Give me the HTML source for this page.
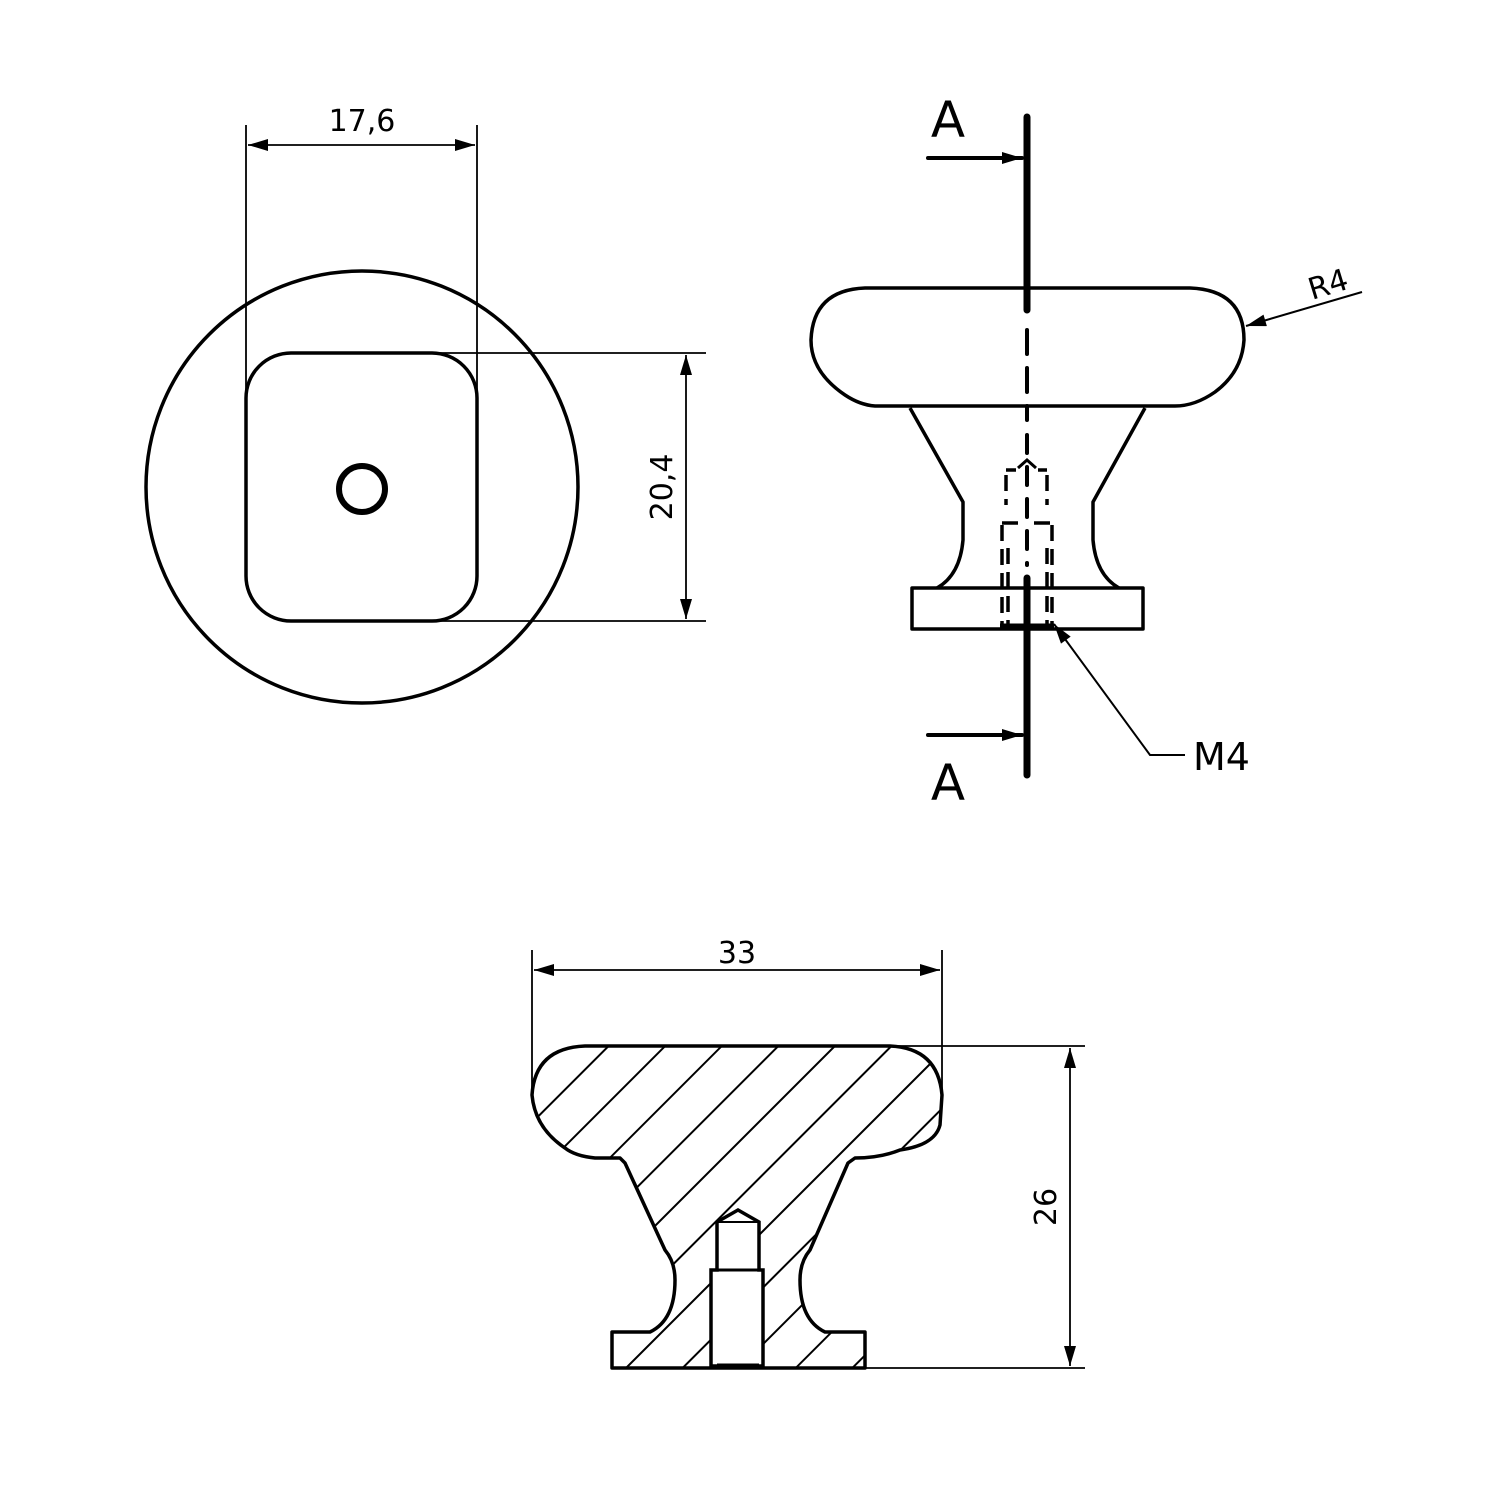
<!DOCTYPE html>
<html><head><style>body{margin:0;background:#fff}svg{display:block}text{font-family:"DejaVu Sans","Liberation Sans",sans-serif;fill:#000}</style></head>
<body>
<svg width="1500" height="1500" viewBox="0 0 1500 1500" xmlns="http://www.w3.org/2000/svg">
<defs>
<marker id="ab" viewBox="0 0 10 6" refX="10" refY="3" markerWidth="26" markerHeight="12" markerUnits="userSpaceOnUse" orient="auto-start-reverse"><path d="M0,0 L10,3 L0,6 z" fill="#000"/></marker>
<pattern id="h" width="40" height="40" patternUnits="userSpaceOnUse" patternTransform="rotate(45)"><line x1="10" y1="0" x2="10" y2="40" stroke="#000" stroke-width="2"/></pattern>
</defs>
<g fill="none" stroke="#000" stroke-width="3.5" stroke-linejoin="round">
<circle cx="362" cy="487" r="216"/>
<rect x="246" y="353" width="231" height="268" rx="45"/>
<circle cx="362" cy="489" r="23" stroke-width="6"/>
</g>
<g stroke="#000" stroke-width="1.8" fill="none">
<line x1="246" y1="125" x2="246" y2="400"/>
<line x1="477" y1="125" x2="477" y2="400"/>
<line x1="248" y1="145" x2="475" y2="145" marker-start="url(#ab)" marker-end="url(#ab)"/>
<line x1="440" y1="353" x2="706" y2="353"/>
<line x1="440" y1="621" x2="706" y2="621"/>
<line x1="686" y1="355" x2="686" y2="619" marker-start="url(#ab)" marker-end="url(#ab)"/>
</g>
<text x="362" y="131" font-size="30" text-anchor="middle">17,6</text>
<text x="0" y="0" font-size="30" text-anchor="middle" transform="translate(672,487) rotate(-90)">20,4</text>

<g fill="none" stroke="#000" stroke-width="3.5" stroke-linejoin="round">
<path d="M865,288 L1190,288 Q1244,290 1244,340 Q1242,372 1215,392 Q1195,406 1175,406 L875,406 Q860,405 845,395 Q811,372 811,340 Q813,290 865,288 Z"/>
<path d="M910,408 L963,502 L963,540 Q960,575 937,588"/>
<path d="M1145,408 L1093,502 L1093,540 Q1096,575 1119,588"/>
<rect x="912" y="588" width="231" height="41"/>
</g>
<g stroke="#000" stroke-width="3.5" fill="none" stroke-dasharray="16,8">
<path d="M1006,475 L1006,505 M1047,475 L1047,505 M1006,470 L1016,470 M1038,470 L1047,470"/>
<path d="M1002,525 L1002,625 M1052,525 L1052,625 M1002,523 L1020,523 M1034,523 L1052,523"/>
<path d="M1008,548 L1008,625 M1047,548 L1047,625"/>
</g>
<path d="M1018,468 L1027,460 L1036,468" stroke="#000" stroke-width="3" fill="none"/>
<line x1="1000" y1="626" x2="1054" y2="626" stroke="#000" stroke-width="5"/>
<g stroke="#000" stroke-linecap="round">
<line x1="1027" y1="117" x2="1027" y2="310" stroke-width="7"/>
<line x1="1027" y1="330" x2="1027" y2="420" stroke-width="4" stroke-dasharray="24,14"/>
<line x1="1027" y1="435" x2="1027" y2="565" stroke-width="4" stroke-dasharray="18,14"/>
<line x1="1027" y1="578" x2="1027" y2="775" stroke-width="7"/>
<line x1="928" y1="158" x2="1022" y2="158" stroke-width="4" marker-end="url(#ab)"/>
<line x1="928" y1="735" x2="1022" y2="735" stroke-width="4" marker-end="url(#ab)"/>
</g>
<text x="948" y="137" font-size="50" text-anchor="middle">A</text>
<text x="948" y="800" font-size="50" text-anchor="middle">A</text>
<line x1="1362" y1="292" x2="1246" y2="326" stroke="#000" stroke-width="2" marker-end="url(#ab)"/>
<text x="0" y="0" font-size="30" transform="translate(1312,300) rotate(-17)">R4</text>
<polyline points="1185,755 1150,755 1054,624" fill="none" stroke="#000" stroke-width="2" marker-end="url(#ab)"/>
<text x="1193" y="770" font-size="38">M4</text>

<path d="M585,1046 L890,1046 Q938,1048 942,1095 L940,1125 Q935,1145 900,1150 Q880,1158 855,1158 L848,1163 L810,1250 Q800,1262 800,1280 Q800,1320 825,1332 L865,1332 L865,1368 L612,1368 L612,1332 L650,1332 Q675,1320 675,1280 Q675,1262 665,1250 L625,1163 L620,1158 L595,1158 Q575,1156 565,1148 Q535,1128 532,1095 Q535,1048 585,1046 Z" fill="url(#h)" stroke="#000" stroke-width="3.5" stroke-linejoin="round"/>
<path d="M717,1222 L738,1210 L759,1222 L759,1270 L763,1270 L763,1366 L711,1366 L711,1270 L717,1270 Z" fill="#fff" stroke="#000" stroke-width="3.5"/>
<line x1="717" y1="1270" x2="759" y2="1270" stroke="#000" stroke-width="3"/>
<line x1="717" y1="1222" x2="759" y2="1222" stroke="#000" stroke-width="2"/>
<line x1="717" y1="1366" x2="759" y2="1366" stroke="#000" stroke-width="5"/>
<g stroke="#000" stroke-width="1.8" fill="none">
<line x1="532" y1="950" x2="532" y2="1095"/>
<line x1="942" y1="950" x2="942" y2="1095"/>
<line x1="534" y1="970" x2="940" y2="970" marker-start="url(#ab)" marker-end="url(#ab)"/>
<line x1="890" y1="1046" x2="1085" y2="1046"/>
<line x1="865" y1="1368" x2="1085" y2="1368"/>
<line x1="1070" y1="1048" x2="1070" y2="1366" marker-start="url(#ab)" marker-end="url(#ab)"/>
</g>
<text x="737" y="963" font-size="30" text-anchor="middle">33</text>
<text x="0" y="0" font-size="30" text-anchor="middle" transform="translate(1056,1207) rotate(-90)">26</text>
</svg>
</body></html>
